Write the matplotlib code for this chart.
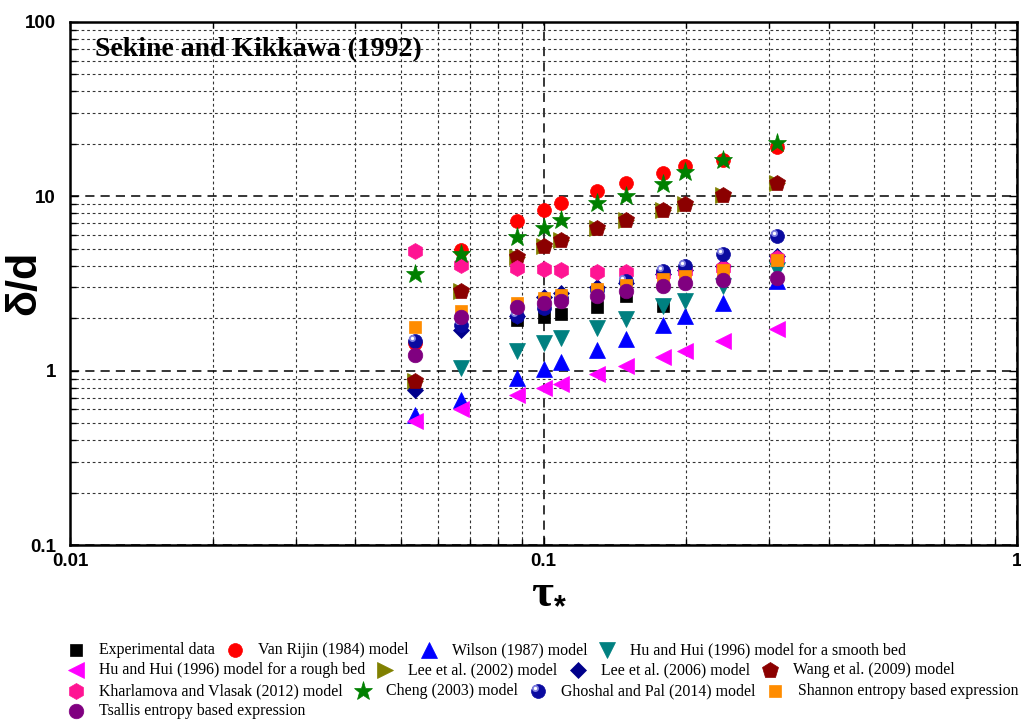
import numpy as np
import matplotlib
matplotlib.use('Agg')
import matplotlib.pyplot as plt
from matplotlib.transforms import ScaledTranslation
from matplotlib.ticker import FixedLocator, FixedFormatter, NullFormatter

nan = np.nan
tau = [0.0535, 0.067, 0.088, 0.100, 0.109, 0.130, 0.149, 0.179, 0.199, 0.239, 0.312]

experimental = [nan, nan, 1.96, 2.02, 2.10, 2.32, 2.67, 2.34, nan, nan, nan]
van_rijn = [1.45, 4.90, 7.19, 8.39, 9.16, 10.69, 11.9, 13.6, 14.86, 16.25, 19.2]
wilson = [0.559, 0.68, 0.908, 1.02, 1.12, 1.32, 1.51, 1.84, 2.05, 2.45, 3.25]
hu_smooth = [nan, 1.03, 1.29, 1.44, 1.54, 1.76, 1.97, 2.36, 2.50, 3.05, 3.80]
hu_rough = [0.517, 0.60, 0.728, 0.80, 0.84, 0.96, 1.06, 1.19, 1.29, 1.47, 1.73]
lee2002 = [0.87, 2.85, 4.47, 5.17, 5.59, 6.55, 7.3, 8.39, 9.0, 10.2, 12.0]
lee2006 = [0.778, 1.72, 2.05, 2.65, 2.80, 3.02, 3.2, 3.6, 3.8, 4.0, 4.53]
wang = [0.868, 2.85, 4.47, 5.17, 5.59, 6.55, 7.3, 8.39, 9.0, 10.2, 12.0]
kharlamova = [4.83, 4.06, 3.88, 3.83, 3.76, 3.70, 3.66, 3.6, 3.75, 3.9, 4.4]
cheng = [3.60, 4.69, 5.82, 6.59, 7.28, 9.1, 10.05, 11.8, 13.74, 16.25, 20.2]
ghoshal = [1.47, 1.84, 2.05, 2.29, 2.6, 2.9, 3.25, 3.75, 3.97, 4.69, 5.95]
shannon = [1.78, 2.19, 2.46, 2.61, 2.73, 2.93, 3.11, 3.35, 3.50, 3.76, 4.33]
tsallis = [1.235, 2.03, 2.32, 2.45, 2.50, 2.68, 2.85, 3.05, 3.20, 3.30, 3.40]

labels = ['Experimental data', 'Van Rijin (1984) model', 'Wilson (1987) model',
          'Hu and Hui (1996) model for a smooth bed',
          'Hu and Hui (1996) model for a rough bed', 'Lee et al. (2002) model',
          'Lee et al. (2006) model', 'Wang et al. (2009) model',
          'Kharlamova and Vlasak (2012) model', 'Cheng (2003) model',
          'Ghoshal and Pal (2014) model', 'Shannon entropy based expression',
          'Tsallis entropy based expression']
series = [experimental, van_rijn, wilson, hu_smooth, hu_rough, lee2002, lee2006,
          wang, kharlamova, cheng, ghoshal, shannon, tsallis]

xtick_vals = [0.01, 0.1, 1]
xtick_labels = ['0.01', '0.1', '1']
ytick_vals = [0.1, 1, 10, 100]
ytick_labels = ['0.1', '1', '10', '100']

# styles: (marker, color, size)
styles = [('s', '#000000', 9), ('o', '#FF0000', 10), ('^', '#0000FF', 11),
          ('v', '#008080', 11), ('<', '#FF00FF', 11), ('>', '#808000', 11),
          ('D', '#00008B', 8.5), ('p', '#8B0000', 12), ('h', '#FF1493', 11.5),
          ('*', '#008000', 14), ('o', '#0A0AA0', 10), ('s', '#FF8C00', 9),
          ('o', '#800080', 10.5)]

fig = plt.figure(figsize=(10.21, 7.22), dpi=100)
ax = fig.add_axes([70/1021, 1-545/722, (1017-70)/1021, (545-22)/722])
ax.set_xscale('log')
ax.set_yscale('log')
ax.set_xlim(0.01, 1)
ax.set_ylim(0.1, 100)

def draw_marker(axis, x, y, i, transform=None):
    m, c, s = styles[i]
    kw = {}
    if transform is not None:
        kw['transform'] = transform
    axis.plot(x, y, ls='none', marker=m, color=c, ms=s, mec=c, mew=0.5, zorder=3 + i * 0.01, **kw)
    if i == 10:
        base = axis.transData if transform is None else transform
        off = base + ScaledTranslation(-2.2/72, 2.2/72, fig.dpi_scale_trans)
        axis.plot(x, y, ls='none', marker='o', color='#8080E0', ms=5, mew=0, zorder=3 + i * 0.01 + 0.001, transform=off)
        axis.plot(x, y, ls='none', marker='o', color='#FFFFFF', ms=2.4, mew=0, zorder=3 + i * 0.01 + 0.002, transform=off)

for i, ys in enumerate(series):
    draw_marker(ax, tau, ys, i)

ax.xaxis.set_major_locator(FixedLocator(xtick_vals))
ax.xaxis.set_major_formatter(FixedFormatter(xtick_labels))
ax.yaxis.set_major_locator(FixedLocator(ytick_vals))
ax.yaxis.set_major_formatter(FixedFormatter(ytick_labels))
xminor = [m * 10.0**e for e in (-2, -1) for m in range(2, 10)]
yminor = [m * 10.0**e for e in (-1, 0, 1) for m in range(2, 10)]
ax.xaxis.set_minor_locator(FixedLocator(xminor))
ax.yaxis.set_minor_locator(FixedLocator(yminor))
ax.xaxis.set_minor_formatter(NullFormatter())
ax.yaxis.set_minor_formatter(NullFormatter())

ax.grid(which='major', ls=(0, (6, 4)), color='black', lw=1.1, zorder=1)
ax.grid(which='minor', ls=(0, (2.5, 2.5)), color='#333333', lw=0.8, zorder=1)
ax.set_axisbelow(True)

ax.tick_params(which='both', direction='in', top=True, right=True, width=1.0)
ax.tick_params(which='major', length=6)
ax.tick_params(which='minor', length=4)
ax.tick_params(axis='x', which='major', pad=6)
ax.tick_params(axis='y', which='major', pad=10)
for lab in ax.get_xticklabels() + ax.get_yticklabels():
    lab.set_fontfamily('Liberation Sans')
    lab.set_fontweight('bold')
    lab.set_fontsize(13.5)
for sp in ax.spines.values():
    sp.set_linewidth(1.8)

# axis labels
fig.text(24/1021, 1-283/722, 'δ/d', rotation=90, fontsize=31, fontweight='bold',
         family='Liberation Sans', ha='center', va='center')
fig.text(553/1021, 1-606/722, 'τ', fontsize=34, fontweight='bold',
         family='Liberation Serif', ha='right', va='baseline')
fig.text(554/1021, 1-616/722, '*', fontsize=22, fontweight='bold',
         family='Liberation Sans', ha='left', va='baseline')

fig.text(95/1021, 1-50/722, 'Sekine and Kikkawa (1992)', family='Liberation Serif',
         fontweight='bold', fontsize=20, va='center', ha='left')

# manual flowing legend
lax = fig.add_axes([0, 0, 1, 1])
lax.set_xlim(0, 1021)
lax.set_ylim(722, 0)
lax.axis('off')
lax.patch.set_visible(False)
renderer = fig.canvas.get_renderer()
rows = [[0, 1, 2, 3], [4, 5, 6, 7], [8, 9, 10, 11], [12]]
row_y = [650, 670, 691, 711]
for r, idxs in enumerate(rows):
    x = 76
    for i in idxs:
        draw_marker(lax, [x], [row_y[r]], i, transform=lax.transData)
        t = lax.text(x + 23, row_y[r], labels[i], family='Liberation Serif',
                     fontsize=11.4, va='center', ha='left')
        bb = t.get_window_extent(renderer)
        x = bb.x1 + 20

fig.savefig('out.png', dpi=100)
